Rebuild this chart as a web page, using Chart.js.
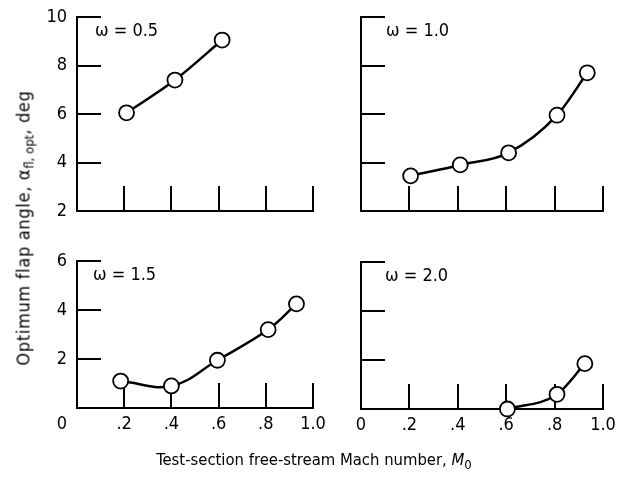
<!DOCTYPE html>
<html>
<head>
<meta charset="utf-8">
<script src="https://cdn.jsdelivr.net/npm/chart.js@4/dist/chart.umd.min.js"></script>
<style>
body { margin: 0; background: #fff; }
#page {
    position: relative; width: 628px; height: 477px; overflow: hidden;
    font-family: "Liberation Sans Narrow", "DejaVu Sans Condensed", sans-serif; color: #000;
}
canvas { position: absolute; }
#ytitle {
    position: absolute; left: 23px; top: 228px; white-space: nowrap; font-size: 18px;
    letter-spacing: 0.7px;
    transform: translate(-50%, -50%) rotate(-90deg);
}
#xtitle {
    position: absolute; left: 314px; top: 459px; white-space: nowrap; font-size: 16.5px;
    transform: translate(-50%, -50%);
}
sub { font-size: 13px; vertical-align: -4px; line-height: 0; letter-spacing: 0; }
</style>
</head>
<body>
<div id="page">
    <canvas id="c1" width="330" height="235" style="left:0;top:0"></canvas>
    <canvas id="c2" width="313" height="235" style="left:315px;top:0"></canvas>
    <canvas id="c3" width="330" height="237" style="left:0;top:240px"></canvas>
    <canvas id="c4" width="313" height="237" style="left:315px;top:240px"></canvas>
    <div id="ytitle">Optimum flap angle, &alpha;<sub>fl, opt</sub>, deg</div>
    <div id="xtitle">Test-section free-stream Mach number, <i>M</i><sub>0</sub></div>
</div>
<script>
// optimum flap angle vs free-stream Mach number, one panel per omega
var omegaLabels = ['ω = 0.5', 'ω = 1.0', 'ω = 1.5', 'ω = 2.0'];
var machTicks = ['0', '.2', '.4', '.6', '.8', '1.0'];

var machHalf = [0.21, 0.415, 0.615];
var angleHalf = [6.05, 7.4, 9.05];

var machOne = [0.205, 0.41, 0.61, 0.81, 0.935];
var angleOne = [3.45, 3.9, 4.4, 5.95, 7.7];

var machOneHalf = [0.185, 0.4, 0.595, 0.81, 0.93];
var angleOneHalf = [1.1, 0.9, 1.95, 3.2, 4.25];

var machTwo = [0.605, 0.81, 0.925];
var angleTwo = [0, 0.6, 1.85];

Chart.defaults.font.family = '"Liberation Sans Narrow", "DejaVu Sans Condensed", sans-serif';
Chart.defaults.font.size = 18;
Chart.defaults.color = '#000';

// short tick marks pointing into the plot, plus the omega caption
var innerTicks = {
    id: 'innerTicks',
    beforeDatasetsDraw: function (chart, args, opts) {
        var ctx = chart.ctx;
        var area = chart.chartArea;
        var xs = chart.scales.x;
        var ys = chart.scales.y;
        ctx.save();
        ctx.strokeStyle = '#000';
        ctx.lineWidth = 2;
        ctx.beginPath();
        ys.ticks.forEach(function (t) {
            var py = Math.round(ys.getPixelForValue(t.value));
            ctx.moveTo(area.left, py);
            ctx.lineTo(area.left + 24, py);
        });
        xs.ticks.forEach(function (t) {
            var px = Math.round(xs.getPixelForValue(t.value));
            ctx.moveTo(px, area.bottom);
            ctx.lineTo(px, area.bottom - 25);
        });
        ctx.stroke();
        ctx.fillStyle = '#000';
        ctx.font = '18px ' + Chart.defaults.font.family;
        ctx.textBaseline = 'middle';
        ctx.fillText(opts.label, area.left + opts.dx, area.top + 14);
        ctx.restore();
    }
};

function toPoints(xs, ys) {
    var pts = [];
    for (var i = 0; i < xs.length; i++) {
        pts.push({ x: xs[i], y: ys[i] });
    }
    return pts;
}

function makePanel(id, p) {
    var config = {
        type: 'scatter',
        plugins: [innerTicks],
        data: {
            datasets: [{
                data: toPoints(p.mach, p.angle),
                showLine: true,
                tension: 0.4,
                cubicInterpolationMode: p.curve,
                borderColor: '#000',
                borderWidth: 2.5,
                pointRadius: 7.5,
                pointBorderWidth: 1.8,
                pointBackgroundColor: '#fff',
                pointBorderColor: '#000',
                clip: false
            }]
        },
        options: {
            responsive: false,
            animation: false,
            events: [],
            layout: { padding: { left: 0, top: p.top, right: p.right, bottom: 0 } },
            plugins: {
                legend: { display: false },
                tooltip: { enabled: false },
                innerTicks: { label: p.label, dx: p.dx }
            },
            scales: {
                x: {
                    type: 'linear',
                    min: 0,
                    max: 1,
                    grid: { display: false, drawTicks: false },
                    border: { display: true, color: '#000', width: 2 },
                    ticks: {
                        stepSize: 0.2,
                        display: p.xLabels,
                        padding: 6,
                        maxRotation: 0,
                        autoSkip: false,
                        callback: function (v, i) {
                            if (p.hideZero && i === 0) return '';
                            return machTicks[i];
                        }
                    },
                    afterFit: function (s) {
                        s.height = p.xHeight;
                        s.paddingLeft = 0;
                        s.paddingRight = 0;
                    }
                },
                y: {
                    min: p.yMin,
                    max: p.yMax,
                    grid: { display: false, drawTicks: false },
                    border: { display: true, color: '#000', width: 2 },
                    ticks: {
                        stepSize: 2,
                        display: p.yLabels,
                        autoSkip: false,
                        padding: 10,
                        font: { size: 18, lineHeight: 1.8 },
                        callback: function (v) {
                            // the origin label sits down in the Mach row
                            if (p.hideZero && v === 0) return ['', '0'];
                            return String(v);
                        }
                    },
                    afterFit: function (s) {
                        s.width = p.yWidth;
                        s.paddingTop = 0;
                        s.paddingBottom = 0;
                    }
                }
            }
        }
    };
    var ctx = document.getElementById(id).getContext('2d');
    return new Chart(ctx, config);
}

makePanel('c1', {
    mach: machHalf, angle: angleHalf, label: omegaLabels[0], dx: 18, curve: 'monotone',
    yMin: 2, yMax: 10, yLabels: true, xLabels: false,
    yWidth: 77, xHeight: 24, top: 17, right: 17
});
makePanel('c2', {
    mach: machOne, angle: angleOne, label: omegaLabels[1], dx: 25, curve: 'monotone',
    yMin: 2, yMax: 10, yLabels: false, xLabels: false,
    yWidth: 46, xHeight: 24, top: 17, right: 25
});
makePanel('c3', {
    mach: machOneHalf, angle: angleOneHalf, label: omegaLabels[2], dx: 16, curve: 'default',
    yMin: 0, yMax: 6, yLabels: true, xLabels: true, hideZero: true,
    yWidth: 77, xHeight: 69, top: 21, right: 17
});
makePanel('c4', {
    mach: machTwo, angle: angleTwo, label: omegaLabels[3], dx: 24, curve: 'monotone',
    yMin: 0, yMax: 6, yLabels: false, xLabels: true,
    yWidth: 46, xHeight: 68, top: 22, right: 25
});
</script>
</body>
</html>
